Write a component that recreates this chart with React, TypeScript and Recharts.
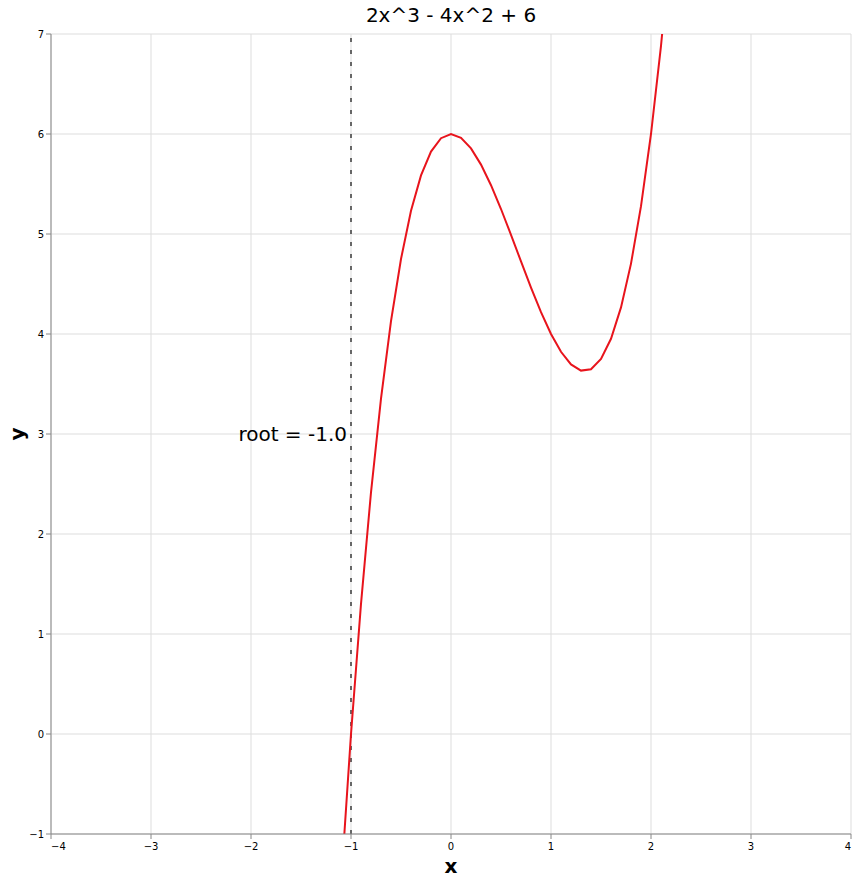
import React from "react";
import {
  LineChart,
  Line,
  XAxis,
  YAxis,
  CartesianGrid,
  ReferenceLine,
  ReferenceDot,
} from "recharts";

const xValues = [
  -1.2, -1.1, -1.0, -0.9, -0.8, -0.7, -0.6, -0.5, -0.4, -0.3, -0.2, -0.1, 0.0,
  0.1, 0.2, 0.3, 0.4, 0.5, 0.6, 0.7, 0.8, 0.9, 1.0, 1.1, 1.2, 1.3, 1.4, 1.5,
  1.6, 1.7, 1.8, 1.9, 2.0, 2.1, 2.2,
];
const yValues = [
  -3.216, -1.502, 0.0, 1.302, 2.416, 3.354, 4.128, 4.75, 5.232, 5.586, 5.824,
  5.958, 6.0, 5.962, 5.856, 5.694, 5.488, 5.25, 4.992, 4.726, 4.464, 4.218, 4.0,
  3.822, 3.696, 3.634, 3.648, 3.75, 3.952, 4.266, 4.704, 5.278, 6.0, 6.882,
  7.936,
];
const xTicks = [-4, -3, -2, -1, 0, 1, 2, 3, 4];
const yTicks = [-1, 0, 1, 2, 3, 4, 5, 6, 7];
const root = -1.0;
const rootLabelY = 3;
const title = "2x^3 - 4x^2 + 6";

const data = xValues.map((x, i) => ({ x, y: yValues[i] }));

const FONT = "DejaVu Sans, sans-serif";
const fmt = (v: number) => String(v).replace("-", "\u2212");

const XTick = (props: any) => {
  const { x, y, payload, index } = props;
  let anchor: "start" | "middle" | "end" = "middle";
  if (index === 0) anchor = "start";
  if (index === xTicks.length - 1) anchor = "end";
  return (
    <text
      x={x}
      y={y}
      dy="0.71em"
      textAnchor={anchor}
      fontSize={10}
      fontFamily={FONT}
      fill="#000"
    >
      {fmt(payload.value)}
    </text>
  );
};

const YTick = (props: any) => {
  const { x, y, payload } = props;
  return (
    <text
      x={x}
      y={y}
      dy="0.35em"
      textAnchor="end"
      fontSize={10}
      fontFamily={FONT}
      fill="#000"
    >
      {fmt(payload.value)}
    </text>
  );
};

const RootLabel = (props: any) => (
  <text
    x={props.cx - 4}
    y={props.cy}
    dy="0.35em"
    textAnchor="end"
    fontSize={20}
    fontFamily={FONT}
    fill="#000"
  >
    {`root = ${root.toFixed(1)}`}
  </text>
);

export default function App() {
  return (
    <div
      style={{
        position: "absolute",
        left: 0,
        top: 0,
        width: 857,
        height: 880,
        background: "#fff",
      }}
    >
      <div
        style={{
          position: "absolute",
          left: 51,
          top: 4,
          width: 800,
          textAlign: "center",
          fontFamily: FONT,
          fontSize: 20,
          lineHeight: "22px",
        }}
      >
        {title}
      </div>
      <LineChart
        width={857}
        height={880}
        data={data}
        margin={{ top: 34, right: 6, left: 11, bottom: 16 }}
      >
        <CartesianGrid stroke="#ddd" strokeWidth={1} />
        <XAxis
          type="number"
          dataKey="x"
          domain={[-4, 4]}
          ticks={xTicks}
          allowDataOverflow
          height={30}
          stroke="#888"
          tickSize={5}
          tickMargin={4}
          tick={<XTick />}
          label={({ viewBox }: any) => (
            <text
              x={viewBox.x + viewBox.width / 2}
              y={866}
              dy="0.35em"
              textAnchor="middle"
              fontSize={20}
              fontWeight="bold"
              fontFamily={FONT}
              fill="#000"
            >
              x
            </text>
          )}
        />
        <YAxis
          type="number"
          dataKey="y"
          domain={[-1, 7]}
          ticks={yTicks}
          allowDataOverflow
          width={40}
          stroke="#888"
          tickSize={5}
          tickMargin={2}
          tick={<YTick />}
          label={({ viewBox }: any) => {
            const cx = 17;
            const cy = viewBox.y + viewBox.height / 2;
            return (
              <text
                x={cx}
                y={cy}
                dy="0.35em"
                transform={`rotate(-90 ${cx} ${cy})`}
                textAnchor="middle"
                fontSize={20}
                fontWeight="bold"
                fontFamily={FONT}
                fill="#000"
              >
                y
              </text>
            );
          }}
        />
        <ReferenceLine
          x={root}
          stroke="#666"
          strokeWidth={2}
          strokeDasharray="4 8"
        />
        <ReferenceDot
          x={root}
          y={rootLabelY}
          r={0}
          shape={<RootLabel />}
        />
        <Line
          type="linear"
          dataKey="y"
          stroke="#e8141c"
          strokeWidth={2}
          dot={false}
          isAnimationActive={false}
        />
      </LineChart>
    </div>
  );
}
